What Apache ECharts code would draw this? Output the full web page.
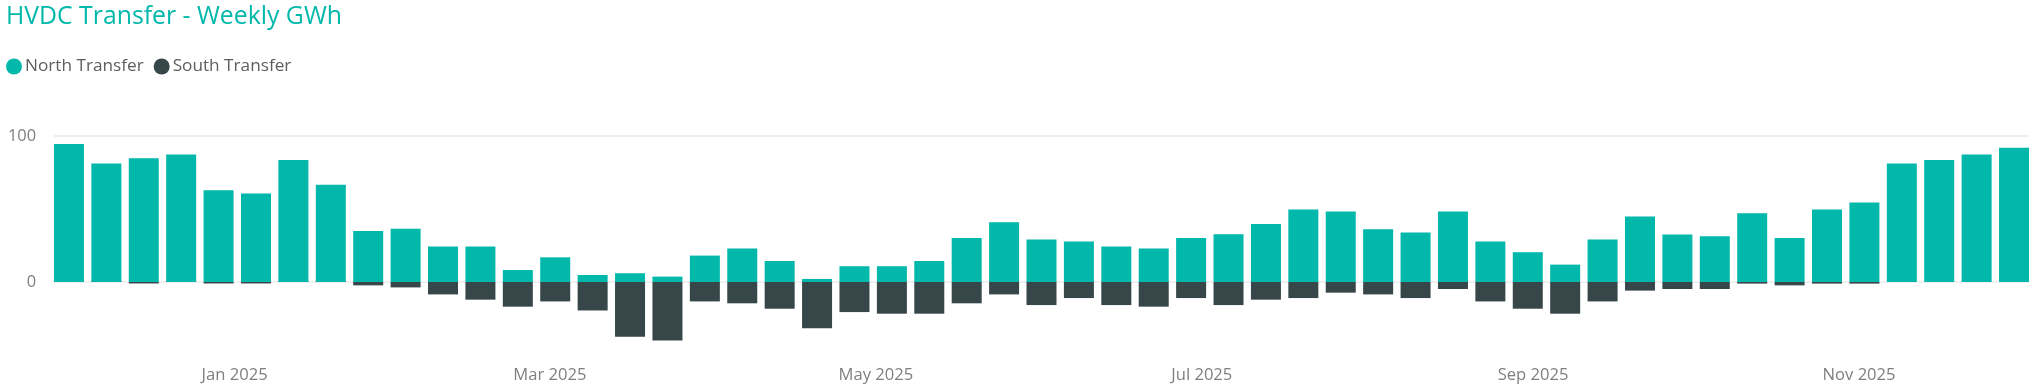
<!DOCTYPE html>
<html>
<head>
<meta charset="utf-8">
<script src="https://cdn.jsdelivr.net/npm/echarts@6/dist/echarts.min.js"></script>
<style>
html,body{margin:0;padding:0;background:#fff;}
#chart{width:2042px;height:392px;}
</style>
</head>
<body>
<div id="chart"></div>
<script>
const titleText = 'HVDC Transfer - Weekly GWh';
const seriesNames = ['North Transfer', 'South Transfer'];
const weeks = [
  '2024-12-01','2024-12-08','2024-12-15','2024-12-22','2024-12-29',
  '2025-01-05','2025-01-12','2025-01-19','2025-01-26',
  '2025-02-02','2025-02-09','2025-02-16','2025-02-23',
  '2025-03-02','2025-03-09','2025-03-16','2025-03-23','2025-03-30',
  '2025-04-06','2025-04-13','2025-04-20','2025-04-27',
  '2025-05-04','2025-05-11','2025-05-18','2025-05-25',
  '2025-06-01','2025-06-08','2025-06-15','2025-06-22','2025-06-29',
  '2025-07-06','2025-07-13','2025-07-20','2025-07-27',
  '2025-08-03','2025-08-10','2025-08-17','2025-08-24','2025-08-31',
  '2025-09-07','2025-09-14','2025-09-21','2025-09-28',
  '2025-10-05','2025-10-12','2025-10-19','2025-10-26',
  '2025-11-02','2025-11-09','2025-11-16','2025-11-23','2025-11-30'
];
const northTransfer = [
  94.5, 81.2, 84.7, 87.4, 62.9, 60.6, 83.5, 66.6, 35.0, 36.4,
  24.3, 24.3, 8.2, 16.9, 4.8, 6.0, 3.7, 18.1, 22.9, 14.4,
  2.1, 10.8, 10.8, 14.4, 30.2, 41.0, 29.1, 27.7, 24.3, 22.9,
  30.2, 32.7, 39.8, 49.7, 48.3, 36.2, 33.9, 48.3, 27.7, 20.4,
  11.9, 29.1, 44.9, 32.5, 31.4, 47.1, 30.2, 49.7, 54.5, 81.2,
  83.5, 87.4, 92.0
];
const southTransfer = [
  0.8, 0.8, -1.0, 0.8, -1.0, -1.0, 0.8, 0.8, -2.3, -3.7,
  -8.5, -12.1, -16.9, -13.3, -19.5, -37.5, -40.0, -13.3, -14.6, -18.3,
  -31.6, -20.6, -21.7, -21.7, -14.6, -8.5, -15.8, -11.0, -15.8, -16.9,
  -11.0, -15.8, -12.1, -11.0, -7.3, -8.5, -11.0, -4.8, -13.3, -18.3,
  -21.7, -13.3, -5.9, -4.8, -4.8, -1.1, -2.3, -1.1, -1.1, 0,
  0, 0, 0
];
const xTickDates = ['2025-01-01','2025-03-01','2025-05-01','2025-07-01','2025-09-01','2025-11-01'];
const xTickLabels = ['Jan 2025','Mar 2025','May 2025','Jul 2025','Sep 2025','Nov 2025'];
const yTickLabels = ['0', '100'];

const FONT = "'Segoe UI', 'Open Sans', sans-serif";
const DAY = 86400000;
const toTime = d => new Date(d + 'T00:00:00Z').getTime();
const weekTimes = weeks.map(toTime);
const t0 = weekTimes[0];
const t1 = weekTimes[weekTimes.length - 1];
const tickTimes = xTickDates.map(toTime);

function labelForTime(v) {
  for (let i = 0; i < tickTimes.length; i++) {
    if (Math.abs(tickTimes[i] - v) < DAY / 2) return xTickLabels[i];
  }
  return '';
}

const chart = echarts.init(document.getElementById('chart'), null, {renderer: 'canvas'});
chart.setOption({
  animation: false,
  backgroundColor: '#ffffff',
  title: {
    text: titleText,
    left: 2,
    top: 4,
    padding: [0, 0, 0, 4],
    textStyle: {fontFamily: FONT, fontSize: 24.8, fontWeight: 'normal', color: '#01B8AA'}
  },
  legend: {
    data: seriesNames,
    left: 6,
    top: 58,
    padding: 0,
    icon: 'circle',
    itemWidth: 16,
    itemHeight: 16,
    itemGap: 10,
    textStyle: {fontFamily: FONT, fontSize: 17.2, color: '#605E5C', padding: [0, 0, 0, -2]}
  },
  grid: {left: 54, right: 13, top: 136, bottom: 37, containLabel: false},
  xAxis: {
    type: 'value',
    min: t0 - 2.8 * DAY,
    max: t1 + 2.8 * DAY,
    axisLine: {show: false, onZero: false},
    axisTick: {show: false},
    splitLine: {show: false},
    axisLabel: {
      customValues: tickTimes,
      formatter: (v) => labelForTime(v),
      color: '#7f7f7f',
      fontFamily: FONT,
      fontSize: 16.6,
      margin: 12,
      hideOverlap: false
    }
  },
  yAxis: {
    type: 'value',
    min: -50,
    max: 100,
    interval: 50,
    axisLine: {show: false},
    axisTick: {show: false},
    axisLabel: {
      formatter: (v) => (yTickLabels.indexOf(String(v)) >= 0 ? String(v) : ''),
      color: '#7f7f7f',
      fontFamily: FONT,
      fontSize: 16.4,
      margin: 18
    },
    splitLine: {
      show: true,
      lineStyle: {color: ['rgba(0,0,0,0)', '#ededed', 'rgba(0,0,0,0)', '#e8e8e8'], width: 1.5}
    }
  },
  series: [
    {
      name: seriesNames[1],
      type: 'bar',
      stack: 'transfer',
      barWidth: 30,
      itemStyle: {color: '#374649'},
      data: weekTimes.map((t, i) => [t, southTransfer[i]])
    },
    {
      name: seriesNames[0],
      type: 'bar',
      stack: 'transfer',
      barWidth: 30,
      itemStyle: {color: '#01B8AA'},
      data: weekTimes.map((t, i) => [t, northTransfer[i]])
    }
  ]
});
</script>
</body>
</html>
